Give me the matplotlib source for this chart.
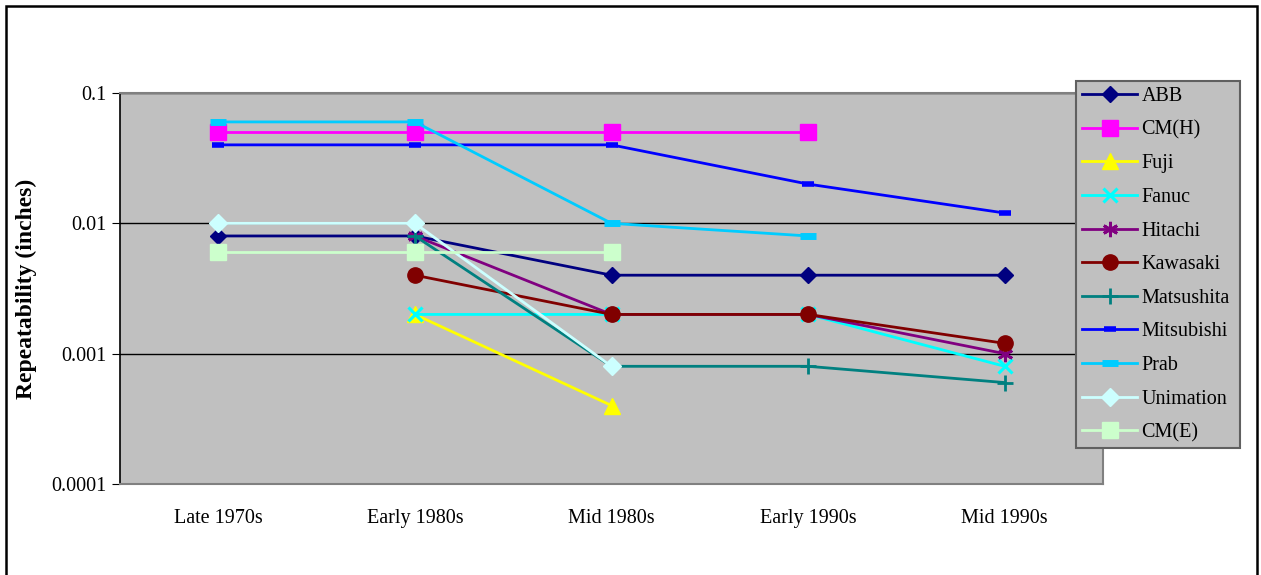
import numpy as np
import matplotlib.pyplot as plt
from matplotlib.patches import Rectangle

plt.rcParams['font.family'] = ['Liberation Serif', 'DejaVu Serif']

periods = ["Late 1970s", "Early 1980s", "Mid 1980s", "Early 1990s", "Mid 1990s"]
nan = np.nan

abb = [0.008, 0.008, 0.004, 0.004, 0.004]
cm_h = [0.05, 0.05, 0.05, 0.05, nan]
fuji = [nan, 0.002, 0.0004, nan, nan]
fanuc = [nan, 0.002, 0.002, 0.002, 0.0008]
hitachi = [nan, 0.008, 0.002, 0.002, 0.001]
kawasaki = [nan, 0.004, 0.002, 0.002, 0.0012]
matsushita = [nan, 0.008, 0.0008, 0.0008, 0.0006]
mitsubishi = [0.04, 0.04, 0.04, 0.02, 0.012]
prab = [0.06, 0.06, 0.01, 0.008, nan]
unimation = [0.01, 0.01, 0.0008, nan, nan]
cm_e = [0.006, 0.006, 0.006, nan, nan]

# name, values, colour, marker, marker size, marker edge width
series = [
    ("ABB", abb, "#000080", "D", 8, 1),
    ("CM(H)", cm_h, "#FF00FF", "s", 11, 1),
    ("Fuji", fuji, "#FFFF00", "^", 11, 1),
    ("Fanuc", fanuc, "#00FFFF", "x", 10, 2.2),
    ("Hitachi", hitachi, "#800080", (6, 2, 0), 11, 2.0),
    ("Kawasaki", kawasaki, "#800000", "o", 11, 1),
    ("Matsushita", matsushita, "#008080", "+", 11, 2.0),
    ("Mitsubishi", mitsubishi, "#0000FF", "_", 8, 4),
    ("Prab", prab, "#00CCFF", "_", 12, 5),
    ("Unimation", unimation, "#CCFFFF", "D", 9, 1),
    ("CM(E)", cm_e, "#CCFFCC", "s", 11, 1),
]

fig = plt.figure(figsize=(12.61, 5.75), dpi=100)
ax = fig.add_axes([120 / 1261, 1 - 484 / 575, 983 / 1261, 391 / 575])
ax.set_facecolor("#C0C0C0")

x = np.arange(len(periods)) + 0.5
for name, vals, col, mk, ms, mew in series:
    ax.plot(x, vals, color=col, lw=2.0, marker=mk, markersize=ms,
            markerfacecolor=col, markeredgecolor=col, markeredgewidth=mew,
            label=name, zorder=3)

ax.set_yscale("log")
ax.set_ylim(0.0001, 0.1)
ax.set_xlim(0, len(periods))
ax.set_yticks([0.0001, 0.001, 0.01, 0.1])
ax.set_yticklabels(["0.0001", "0.001", "0.01", "0.1"])
ax.minorticks_off()
ax.yaxis.grid(True, color="black", lw=1)
ax.set_axisbelow(True)
ax.set_xticks(x)
ax.set_xticklabels(periods)
ax.tick_params(axis="x", length=0, pad=18, labelsize=14.5)
ax.tick_params(axis="y", length=6, direction="out", color="black", labelsize=14.5, pad=4)

for s in ["top", "right", "bottom"]:
    ax.spines[s].set_color("#808080")
    ax.spines[s].set_linewidth(1.5)
ax.spines["left"].set_color("black")
ax.spines["left"].set_linewidth(1.2)

ax.set_ylabel("Repeatability (inches)", fontsize=17, fontweight="bold", labelpad=10)

leg = ax.legend(loc="upper left",
                bbox_to_anchor=(1076 / 1261, 1 - 447 / 575, 164 / 1261, 366 / 575),
                bbox_transform=fig.transFigure, mode="expand", borderaxespad=0,
                fontsize=14.5, frameon=True, fancybox=False, handlelength=2.75,
                labelspacing=0.72, borderpad=0.3, handletextpad=0.2)
leg.get_frame().set_facecolor("#C0C0C0")
leg.get_frame().set_edgecolor("#606060")
leg.get_frame().set_linewidth(1.5)
leg.get_frame().set_alpha(1)

fig.patches.append(Rectangle((6 / 1261, -0.01), 1251 / 1261, 1 - 6 / 575 + 0.01,
                             transform=fig.transFigure, fill=False,
                             edgecolor="black", lw=1.8))

fig.savefig("out.png", dpi=100, facecolor="white")
